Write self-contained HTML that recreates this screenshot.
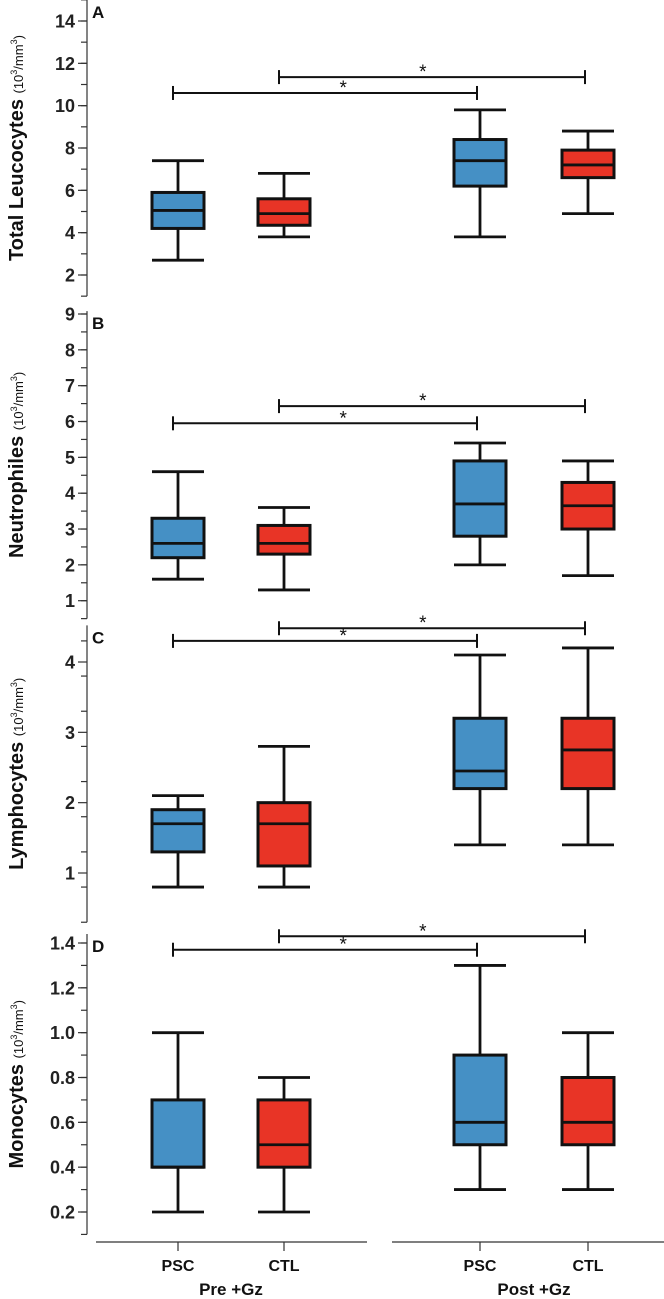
<!DOCTYPE html>
<html><head><meta charset="utf-8"><style>
html,body{margin:0;padding:0;background:#fff;}
svg{display:block;font-family:"Liberation Sans",Arial,sans-serif;}
</style></head><body>
<svg id="chart" width="664" height="1299" viewBox="0 0 664 1299" xmlns="http://www.w3.org/2000/svg"></svg>
<script>
const categories = ["PSC","CTL","PSC","CTL"];
const groups = ["Pre +Gz","Post +Gz"];
const panelLetters = ["A","B","C","D"];
const panelTitles = ["Total Leucocytes","Neutrophiles","Lymphocytes","Monocytes"];
// [min, q1, median, q3, max] per category
const leucocytes = [[2.7,4.2,5.05,5.9,7.4],[3.8,4.35,4.9,5.6,6.8],[3.8,6.2,7.4,8.4,9.8],[4.9,6.6,7.2,7.9,8.8]];
const neutrophiles = [[1.6,2.2,2.6,3.3,4.6],[1.3,2.3,2.6,3.1,3.6],[2.0,2.8,3.7,4.9,5.4],[1.7,3.0,3.65,4.3,4.9]];
const lymphocytes = [[0.8,1.3,1.7,1.9,2.1],[0.8,1.1,1.7,2.0,2.8],[1.4,2.2,2.45,3.2,4.1],[1.4,2.2,2.75,3.2,4.2]];
const monocytes = [[0.2,0.4,0.4,0.7,1.0],[0.2,0.4,0.5,0.7,0.8],[0.3,0.5,0.6,0.9,1.3],[0.3,0.5,0.6,0.8,1.0]];
const bracketLevels = [[10.6,11.35],[5.95,6.43],[4.3,4.48],[1.37,1.43]];
const tickLabelsA = ["2","4","6","8","10","12","14"];
const tickLabelsB = ["1","2","3","4","5","6","7","8","9"];
const tickLabelsC = ["1","2","3","4"];
const tickLabelsD = ["0.2","0.4","0.6","0.8","1.0","1.2","1.4"];

const NS="http://www.w3.org/2000/svg";
const svg=document.getElementById('chart');
function el(tag,attrs,parent){const e=document.createElementNS(NS,tag);for(const k in attrs)e.setAttribute(k,attrs[k]);(parent||svg).appendChild(e);return e;}
const xCenters=[178,284,480,588];
const xs=i=>xCenters[i];
const colors=["#4590c5","#e83426","#4590c5","#e83426"];
const panels=[
 {data:leucocytes,labels:tickLabelsA,v1:14,y1:21,v2:2,y2:275,top:15,bot:1,minor:1},
 {data:neutrophiles,labels:tickLabelsB,v1:9,y1:314,v2:1,y2:600.7,top:9.08,bot:0.5,minor:0.5},
 {data:lymphocytes,labels:tickLabelsC,v1:4,y1:662,v2:1,y2:873,top:4.52,bot:0.3,minor:0.5},
 {data:monocytes,labels:tickLabelsD,v1:1.4,y1:943,v2:0.2,y2:1212,top:1.44,bot:0.1,minor:0.1}
];
const AX=87;
panels.forEach((p,pi)=>{
  const y=v=>p.y1+(v-p.v1)*(p.y2-p.y1)/(p.v2-p.v1);
  const g=el('g',{});
  
  
  const ax=el('line',{x1:AX,x2:AX,y1:y(p.top),y2:y(p.bot),stroke:'#333','stroke-width':1.2},g);
  
  
  const nMin=Math.round((p.top-p.bot)/p.minor);
  for(let k=0;k<=nMin;k++){
    const v=p.bot+k*p.minor;
    if(v>p.top+1e-6) break;
    const t=el('line',{x1:AX-6,x2:AX,y1:y(v),y2:y(v),stroke:'#333','stroke-width':1.2},g);
    
    
  }
  p.labels.forEach(lab=>{
    const v=parseFloat(lab);
    const t=el('line',{x1:AX-9,x2:AX,y1:y(v),y2:y(v),stroke:'#333','stroke-width':1.2},g);
    
    
    const tx=el('text',{x:AX-12,y:y(v)+6.5,'text-anchor':'end','font-size':18,'font-weight':'bold',fill:'#222'},g);
    tx.textContent=lab;
    
    
  });
  const L=el('text',{x:92,y:y(p.top)+18,'font-size':17,'font-weight':'bold',fill:'#111'},g);
  L.textContent=panelLetters[pi];
  
  
  const cy=(y(p.top)+y(p.bot))/2;
  const T=el('text',{transform:`translate(23,${cy}) rotate(-90)`,'text-anchor':'middle',fill:'#111'},g);
  
  
  const s1=el('tspan',{'font-size':20,'font-weight':'bold'},T);s1.textContent=panelTitles[pi]+' ';
  const s2=el('tspan',{'font-size':13},T);s2.textContent='(10';
  const s3=el('tspan',{'font-size':9,dy:-6},T);s3.textContent='3';
  const s4=el('tspan',{'font-size':13,dy:6},T);s4.textContent='/mm';
  const s5=el('tspan',{'font-size':9,dy:-6},T);s5.textContent='3';
  const s6=el('tspan',{'font-size':13,dy:6},T);s6.textContent=')';
  p.data.forEach((d,i)=>{
    const cx=xs(i),w=52,cw=26;
    const bg=el('g',{},g);
    
    
    el('line',{x1:cx,x2:cx,y1:y(d[0]),y2:y(d[4]),stroke:'#111','stroke-width':2.8},bg);
    el('line',{x1:cx-cw,x2:cx+cw,y1:y(d[0]),y2:y(d[0]),stroke:'#111','stroke-width':2.8},bg);
    el('line',{x1:cx-cw,x2:cx+cw,y1:y(d[4]),y2:y(d[4]),stroke:'#111','stroke-width':2.8},bg);
    el('rect',{x:cx-w/2,y:y(d[3]),width:w,height:y(d[1])-y(d[3]),fill:colors[i],stroke:'#111','stroke-width':3},bg);
    el('line',{x1:cx-w/2,x2:cx+w/2,y1:y(d[2]),y2:y(d[2]),stroke:'#111','stroke-width':2.8},bg);
  });
  const br=[[0,2,0.56],[1,3,0.47]];
  br.forEach((b,bi)=>{
    const by=y(bracketLevels[pi][bi]);
    const x0=xs(b[0])-5,x1=xs(b[1])-3;
    const bgp=el('g',{},g);
    
    
    el('line',{x1:x0,x2:x1,y1:by,y2:by,stroke:'#111','stroke-width':2},bgp);
    el('line',{x1:x0,x2:x0,y1:by-7,y2:by+7,stroke:'#111','stroke-width':2},bgp);
    el('line',{x1:x1,x2:x1,y1:by-7,y2:by+7,stroke:'#111','stroke-width':2},bgp);
    const st=el('text',{x:x0+(x1-x0)*b[2],y:by+1,'text-anchor':'middle','font-size':19,fill:'#111'},bgp);
    st.textContent='*';
  });
});
const xg=el('g',{});


el('line',{x1:96,x2:367,y1:1242,y2:1242,stroke:'#333','stroke-width':1.2},xg);
el('line',{x1:392,x2:664,y1:1242,y2:1242,stroke:'#333','stroke-width':1.2},xg);
categories.forEach((c,i)=>{
  el('line',{x1:xs(i),x2:xs(i),y1:1242,y2:1251,stroke:'#333','stroke-width':1.2},xg);
  const t=el('text',{x:xs(i),y:1271,'text-anchor':'middle','font-size':16,'font-weight':'bold',fill:'#111'},xg);
  t.textContent=c;
  
  
});
groups.forEach((gname,gi)=>{
  const t=el('text',{x:(xs(gi*2)+xs(gi*2+1))/2,y:1295,'text-anchor':'middle','font-size':17,'font-weight':'bold',fill:'#111'},xg);
  t.textContent=gname;
  
  
});
</script>
</body></html>
